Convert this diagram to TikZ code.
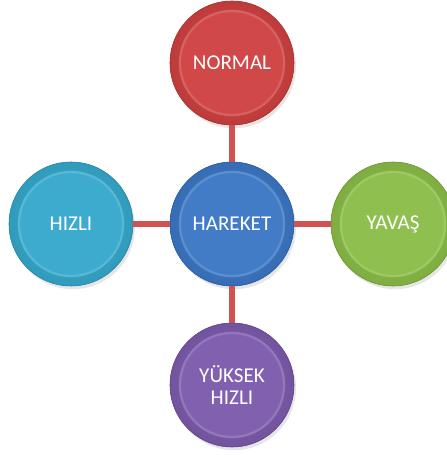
\documentclass[tikz,border=0pt]{standalone}
\usepackage{fontspec}
\setmainfont{Carlito}
\usepackage{xcolor}
\usetikzlibrary{shadows}
\definecolor{redball}{RGB}{206,64,63}
\definecolor{blueball}{RGB}{58,118,196}
\definecolor{cyanball}{RGB}{52,168,204}
\definecolor{greenball}{RGB}{138,188,70}
\definecolor{purpleball}{RGB}{124,90,172}
\definecolor{linkred}{RGB}{208,82,82}

\tikzset{
  ball/.style={circle, minimum size=3.1cm, inner sep=0pt, align=center,
    text=white, font=\fontsize{15}{16}\selectfont,
    fill=#1, draw=#1!80!black, line width=0.4pt,
    drop shadow={shadow xshift=0.05cm, shadow yshift=-0.08cm, opacity=0.2},
    path picture={
      \shade[inner color=#1!90!white, outer color=#1!92!black]
        (path picture bounding box.center) circle (1.55cm);
      \shade[inner color=#1, outer color=#1!82!white]
        (path picture bounding box.center) circle (1.33cm);
      \fill[#1!96!white] (path picture bounding box.center) circle (1.27cm);
    }},
  link/.style={draw=linkred, line width=0.15cm}
}

\begin{document}
\begin{tikzpicture}
  \useasboundingbox (-5.8,-5.775) rectangle (5.375,5.6);

  \node[ball=blueball] (hareket) at (0,0) {HAREKET};
  \node[ball=redball] (normal) at (0,4.025) {NORMAL};
  \node[ball=greenball] (yavas) at (4.025,0) {YAVAŞ};
  \node[ball=purpleball] (yuksek) at (0,-4.025) {YÜKSEK\\HIZLI};
  \node[ball=cyanball] (hizli) at (-4.025,0) {HIZLI};

  \draw[link] (hareket) -- (normal);
  \draw[link] (hareket) -- (yavas);
  \draw[link] (hareket) -- (yuksek);
  \draw[link] (hareket) -- (hizli);
\end{tikzpicture}
\end{document}
